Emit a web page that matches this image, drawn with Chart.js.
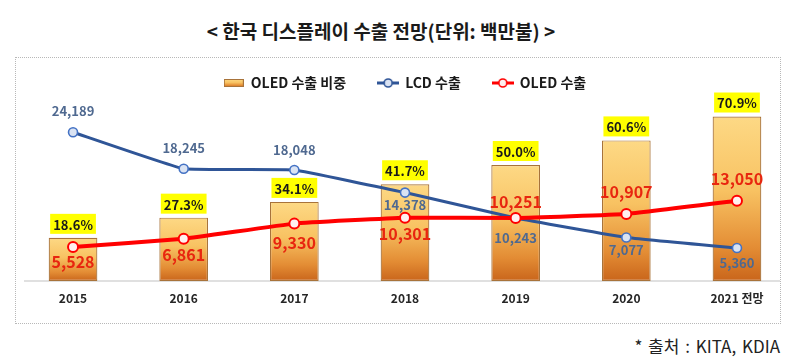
<!DOCTYPE html>
<html><head><meta charset="utf-8">
<script src="https://cdn.jsdelivr.net/npm/chart.js@4/dist/chart.umd.min.js"></script>
<style>
html,body{margin:0;padding:0;background:#fff;}
#wrap{position:relative;width:800px;height:362px;overflow:hidden;font-family:'Noto Sans CJK KR','Noto Sans',sans-serif;}
#frame{position:absolute;left:15px;top:57px;width:764px;height:265px;border:1px dotted #b8b8b8;}
#title{position:absolute;left:0;width:762px;top:16px;text-align:center;font-weight:bold;font-size:19px;color:#1a1a1a;line-height:30px;}
#source{position:absolute;right:20px;top:334px;font-size:17px;color:#222;line-height:24px;word-spacing:2px;}
canvas{position:absolute;left:0;top:0;}
</style></head>
<body><div id="wrap">
<div id="frame"></div>
<div id="title">&lt; 한국 디스플레이 수출 전망(단위: 백만불) &gt;</div>
<div id="source">* 출처 : KITA, KDIA</div>
<canvas id="c" width="800" height="362"></canvas>
</div>
<script>
// ---- data ----
const categories = ['2015', '2016', '2017', '2018', '2019', '2020', '2021 전망'];
const oledShare = [18.6, 27.3, 34.1, 41.7, 50.0, 60.6, 70.9];
const lcdExports = [24189, 18245, 18048, 14378, 10243, 7077, 5360];
const oledExports = [5528, 6861, 9330, 10301, 10251, 10907, 13050];
const seriesNames = ['OLED 수출 비중', 'LCD 수출', 'OLED 수출'];

// ---- label placement (style only): vertical offset of value labels from their point ----
const lcdLabelOffset = [-21, -21, -20, 12, 20, 13, 15];
const oledLabelOffset = [15, 16, 19, 16, -16, -22, -22];

const FONT = "'Noto Sans CJK KR','Noto Sans',sans-serif";
const PX_PER_PCT = 2.32;      // vertical scale
const PX_PER_UNIT = 0.00615;

function barGradient(g, top, base) {
  const gr = g.createLinearGradient(0, top, 0, base);
  gr.addColorStop(0, '#FDD985');
  gr.addColorStop(0.45, '#F8C262');
  gr.addColorStop(0.8, '#E38C34');
  gr.addColorStop(1, '#C9651B');
  return gr;
}

function makeLineMarker(color, fill) {
  const c = document.createElement('canvas'); c.width = 22; c.height = 12;
  const g = c.getContext('2d');
  g.strokeStyle = color; g.lineWidth = 3;
  g.beginPath(); g.moveTo(0, 6); g.lineTo(22, 6); g.stroke();
  g.beginPath(); g.arc(11, 6, 4, 0, Math.PI * 2); g.fillStyle = fill; g.fill();
  g.lineWidth = 1.6; g.stroke();
  return c;
}
function makeBarMarker() {
  const c = document.createElement('canvas'); c.width = 20; c.height = 8;
  const g = c.getContext('2d');
  g.fillStyle = barGradient(g, 0, 8);
  g.fillRect(0.5, 0.5, 19, 7);
  g.strokeStyle = '#A8733A'; g.lineWidth = 1; g.strokeRect(0.5, 0.5, 19, 7);
  return c;
}
const markers = [makeBarMarker(), makeLineMarker('#2F5597', '#DAE3F3'), makeLineMarker('#FF0000', '#FFF0F0')];

const fmt = v => v.toLocaleString('en-US');

const baselinePlugin = {
  id: 'baseline',
  beforeDatasetsDraw(chart) {
    const c = chart.ctx, y = chart.chartArea.bottom;
    c.save(); c.strokeStyle = '#D6D6D6'; c.lineWidth = 1.5;
    c.beginPath(); c.moveTo(24, y); c.lineTo(780, y); c.stroke(); c.restore();
  }
};

const labelPlugin = {
  id: 'valueLabels',
  afterDatasetsDraw(chart) {
    const c = chart.ctx;
    c.save();
    c.textAlign = 'center'; c.textBaseline = 'middle';
    // share labels (yellow boxes above bars)
    c.font = 'bold 13px ' + FONT;
    chart.getDatasetMeta(0).data.forEach((el, i) => {
      const txt = oledShare[i].toFixed(1) + '%';
      const w = c.measureText(txt).width + 6, h = 20;
      const bottom = el.y - 4;
      c.fillStyle = '#FFFF00';
      c.fillRect(el.x - w / 2, bottom - h, w, h);
      c.fillStyle = '#1a1a1a';
      c.fillText(txt, el.x, bottom - h / 2 + 1);
    });
    // LCD labels
    c.font = '600 13px ' + FONT;
    c.fillStyle = '#4F6990';
    chart.getDatasetMeta(1).data.forEach((el, i) => {
      c.fillText(fmt(lcdExports[i]), el.x, el.y + lcdLabelOffset[i]);
    });
    // OLED labels
    c.font = 'bold 16px ' + FONT;
    c.fillStyle = '#E8260F';
    chart.getDatasetMeta(2).data.forEach((el, i) => {
      c.fillText(fmt(oledExports[i]), el.x, el.y + oledLabelOffset[i]);
    });
    c.restore();
  }
};

const chart = new Chart(document.getElementById('c'), {
  data: {
    labels: categories,
    datasets: [
      {
        type: 'bar', label: seriesNames[0], data: oledShare, yAxisID: 'yPct', order: 2,
        backgroundColor(ctx) {
          const ch = ctx.chart;
          if (ctx.type !== 'data' || !ch.chartArea) return '#F8C262';
          const ys = ch.scales.yPct;
          return barGradient(ch.ctx, ys.getPixelForValue(ctx.raw), ys.getPixelForValue(0));
        },
        borderColor: '#A8733A', borderWidth: 1.2, borderSkipped: false,
        categoryPercentage: 1, barPercentage: 0.44
      },
      {
        type: 'line', label: seriesNames[1], data: lcdExports, yAxisID: 'yVal', order: 1,
        borderColor: '#2F5597', borderWidth: 3, tension: 0.08, clip: false,
        pointRadius: 4.5, pointBackgroundColor: '#DAE3F3', pointBorderColor: '#4472C4', pointBorderWidth: 1.6
      },
      {
        type: 'line', label: seriesNames[2], data: oledExports, yAxisID: 'yVal', order: 0,
        borderColor: '#FF0000', borderWidth: 4, tension: 0.1, clip: false,
        pointRadius: 5, pointBackgroundColor: '#FFF0F0', pointBorderColor: '#FF0000', pointBorderWidth: 2
      }
    ]
  },
  options: {
    responsive: false,
    animation: false,
    layout: { padding: { left: 17.7, right: 7.7, top: 44, bottom: 0 } },
    plugins: {
      tooltip: { enabled: false },
      title: { display: false },
      legend: {
        position: 'top',
        labels: {
          usePointStyle: true, pointStyleWidth: 20, padding: 32,
          color: '#1a1a1a', font: { family: FONT, size: 14, weight: 'bold' },
          generateLabels() {
            return seriesNames.map((n, i) => ({
              text: n, pointStyle: markers[i], datasetIndex: i, hidden: false,
              fontColor: '#1a1a1a', lineWidth: 0, strokeStyle: 'transparent', fillStyle: 'transparent'
            }));
          }
        }
      }
    },
    scales: {
      x: {
        grid: { display: false, drawTicks: false },
        border: { display: false },
        ticks: { color: '#262626', font: { family: FONT, size: 12, weight: 'bold' }, padding: 10, maxRotation: 0 },
        afterFit(scale) { scale.height = 81; }
      },
      yPct: { display: false, position: 'left', min: 0, max: 80 },
      yVal: { display: false, position: 'right', min: 0, max: 30000 }
    }
  },
  plugins: [baselinePlugin, labelPlugin]
});

// match vertical scales to the reference's pixel ratios
const h = chart.chartArea.bottom - chart.chartArea.top;
chart.options.scales.yPct.max = h / PX_PER_PCT;
chart.options.scales.yVal.max = h / PX_PER_UNIT;
chart.update('none');
</script>
</body></html>
